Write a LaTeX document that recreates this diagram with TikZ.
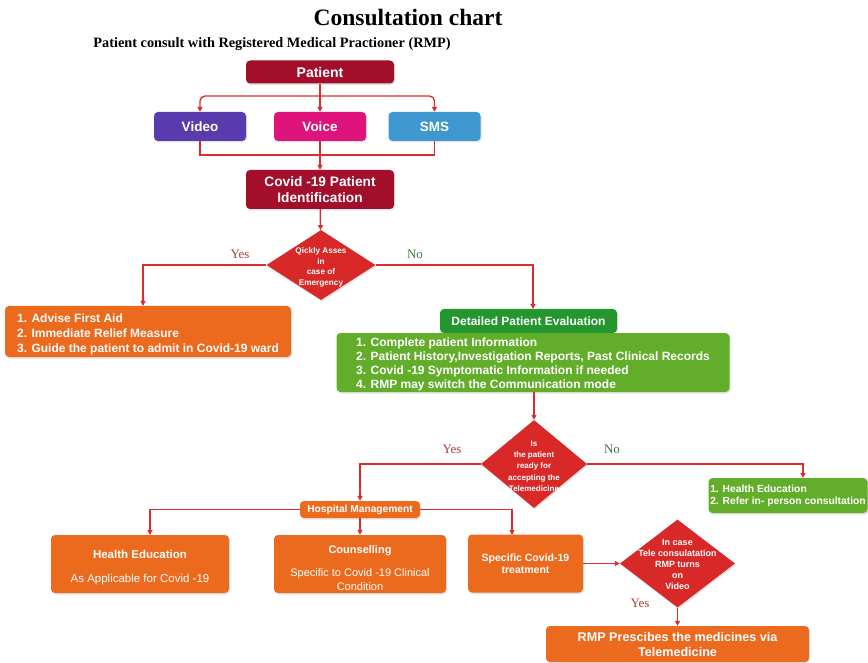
\documentclass[tikz,border=0pt]{standalone}
\usepackage{fontspec}
\setmainfont{Liberation Serif}
\setsansfont{Liberation Sans}
\usetikzlibrary{shapes.geometric,arrows.meta,shadows}

\definecolor{maroon}{HTML}{A30F2B}
\definecolor{vidpurple}{HTML}{5A3BAE}
\definecolor{voicepink}{HTML}{DE137C}
\definecolor{smsblue}{HTML}{3E97CF}
\definecolor{decred}{HTML}{D92828}
\definecolor{linkred}{HTML}{DD2C2C}
\definecolor{orangebox}{HTML}{EC6A1E}
\definecolor{greenbox}{HTML}{62AD2A}
\definecolor{darkgreen}{HTML}{24962E}
\definecolor{yesred}{HTML}{B0403E}
\definecolor{nogreen}{HTML}{3E7B45}

% font size and line distance, both in pt
\newcommand{\fsl}[2]{\fontsize{#1}{#2}\selectfont}
% invisible strut that pushes a text block down inside its box
\newcommand{\topgap}[1]{\rule{0pt}{#1}}

\tikzset{
  box/.style={rounded corners=4pt, text=white, inner sep=0pt,
    font=\sffamily\bfseries,
    drop shadow={opacity=0.22, shadow xshift=1pt, shadow yshift=-1.5pt}},
  decision/.style={diamond, fill=decred, inner sep=0pt, text=white,
    drop shadow={opacity=0.22, shadow xshift=1pt, shadow yshift=-1.5pt}},
  dtext/.style={text=white, align=center},
  link/.style={draw=linkred, line width=1.4pt, -{Triangle[length=5pt,width=5pt]}},
  plainlink/.style={draw=linkred, line width=1.4pt},
  yeslabel/.style={text=yesred, font=\fsl{13}{15}},
  nolabel/.style={text=nogreen, font=\fsl{13}{15}},
}

\begin{document}
\begin{tikzpicture}[x=1pt,y=-1pt]
\useasboundingbox[fill=white] (0,0) rectangle (868,663);

% headings
\node (title) at (408,17) {\bfseries\fsl{23.5}{26}Consultation chart};
\node (subtitle) at (272,44) {\bfseries\fsl{14.3}{16}Patient consult with Registered Medical Practioner (RMP)};

% patient and contact modes
\node[box, fill=maroon, minimum width=148, minimum height=23, font=\sffamily\bfseries\fsl{14}{16}] (patient) at (320,72) {Patient};
\node[box, fill=vidpurple, minimum width=92, minimum height=29, font=\sffamily\bfseries\fsl{13.5}{16}] (video) at (200,126.5) {Video};
\node[box, fill=voicepink, minimum width=92, minimum height=29, font=\sffamily\bfseries\fsl{13.5}{16}] (voice) at (320,126.5) {Voice};
\node[box, fill=smsblue, minimum width=92, minimum height=29, font=\sffamily\bfseries\fsl{13.5}{16}] (sms) at (434.5,126.5) {SMS};
\node[box, fill=maroon, minimum width=148, minimum height=39, align=center, font=\sffamily\bfseries\fsl{13.7}{16}] (covid) at (320,189.5) {Covid -19 Patient\\Identification};

\coordinate (split) at (320,96);
\coordinate (merge) at (320,155);
\draw[link] (patient) -- (voice);
\draw[link, rounded corners=5pt] (split) -| (video.north);
\draw[link, rounded corners=5pt] (split) -| (sms.north);
\draw[plainlink] (video.south) |- (merge) -| (sms.south);
\draw[link] (voice) -- (covid);

% emergency check
\node[decision, minimum width=109, minimum height=70] (d1) at (321,265) {};
\node[dtext, font=\sffamily\bfseries\fsl{8.2}{10.5}, yshift=-2.5pt] (d1t) at (d1.center) {Qickly Asses\\in\\case of\\Emergency};
\draw[link] (covid) -- (d1);

\node[box, fill=orangebox, minimum width=286, minimum height=51, align=left, font=\sffamily\bfseries\fsl{12}{15}] (advise) at (148,331.5)
  {\topgap{14.8pt}1. Advise First Aid\\2. Immediate Relief Measure\\3. Guide the patient to admit in Covid-19 ward};

\node[box, fill=darkgreen, minimum width=177, minimum height=24, font=\sffamily\bfseries\fsl{12}{14}] (dpe) at (528.5,321) {Detailed Patient Evaluation};
\node[box, fill=greenbox, minimum width=393, minimum height=59, align=left, font=\sffamily\bfseries\fsl{12}{14}] (eval) at (533,362.5)
  {\topgap{13pt}1. Complete patient Information\\2. Patient History,Investigation Reports, Past Clinical Records\\3. Covid -19 Symptomatic Information if needed\\4. RMP may switch the Communication mode};

\coordinate (adviseIn) at (143,306);
\coordinate (dpeIn) at (533,309);
\draw[link] (d1.west) -| (adviseIn);
\draw[link] (d1.east) -| (dpeIn);
\node[yeslabel] (yes1) at (240,254) {Yes};
\node[nolabel] (no1) at (415,254) {No};

% readiness check
\node[decision, minimum width=106, minimum height=88] (d2) at (534,464) {};
\node[dtext, font=\sffamily\bfseries\fsl{8}{11.3}, yshift=-2pt] (d2t) at (d2.center) {Is\\the patient\\ready for\\accepting the\\Telemedicine};
\draw[link] (eval.south -| d2.north) -- (d2.north);

\node[box, fill=greenbox, minimum width=159, minimum height=35, align=left, font=\sffamily\bfseries\fsl{10.3}{12}] (refer) at (788,495.5)
  {1. Health Education\\2. Refer in- person consultation};
\node[box, fill=orangebox, minimum width=120, minimum height=17, font=\sffamily\bfseries\fsl{10.2}{12}] (hm) at (360,509.5) {Hospital Management};

\coordinate (referIn) at (803,478);
\draw[link] (d2.west) -| (hm.north);
\draw[link] (d2.east) -| (referIn);
\node[yeslabel] (yes2) at (452,449) {Yes};
\node[nolabel] (no2) at (612,449) {No};

% hospital management branches
\node[box, fill=orangebox, minimum width=178, minimum height=58, align=center, font=\sffamily\fsl{11.5}{14}] (he) at (140,564)
  {\topgap{15pt}\bfseries Health Education\\[10pt]As Applicable for Covid -19};
\node[box, fill=orangebox, minimum width=172, minimum height=58, align=center, font=\sffamily\fsl{11}{14}] (couns) at (360,564)
  {\topgap{16.5pt}\bfseries Counselling\\[9pt]Specific to Covid -19 Clinical\\Condition};
\node[box, fill=orangebox, minimum width=115, minimum height=58, align=center, font=\sffamily\bfseries\fsl{10.5}{12.5}] (spec) at (525.5,563.5)
  {Specific Covid-19\\treatment};

\coordinate (heIn) at (150,535);
\coordinate (specIn) at (512,535);
\draw[link] (hm.west) -| (heIn);
\draw[link] (hm.south) -- (couns.north);
\draw[link] (hm.east) -| (specIn);

% video check and prescription
\node[decision, minimum width=115, minimum height=88] (d3) at (677.5,563.5) {};
\node[dtext, font=\sffamily\bfseries\fsl{9}{11}, yshift=-1pt] (d3t) at (d3.center) {In case\\Tele consulatation\\RMP turns\\on\\Video};
\node[box, fill=orangebox, minimum width=263, minimum height=36, align=center, font=\sffamily\bfseries\fsl{12.6}{15}] (rmp) at (677.5,644)
  {RMP Prescibes the medicines via\\Telemedicine};

\draw[link] (spec.east) -- (d3.west);
\draw[link] (d3.south) -- (rmp.north);
\node[yeslabel] (yes3) at (640,603) {Yes};
\end{tikzpicture}
\end{document}
